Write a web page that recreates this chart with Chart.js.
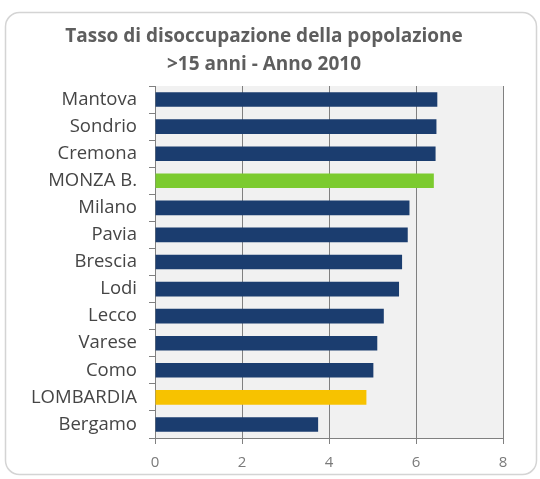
<!doctype html>
<html lang="it">

<head>
    <meta charset="utf-8">
    <title>Tasso di disoccupazione</title>
    <style>
        html, body { margin: 0; padding: 0; background: #fff; }
        #wrap { width: 540px; height: 479px; }
    </style>
</head>

<body>
    <div id="wrap"><canvas id="myChart" width="540" height="479"></canvas></div>

    <script src="https://cdn.jsdelivr.net/npm/chart.js@4.3.0/dist/chart.umd.min.js"></script>
    <script>
        const provinces = ['Mantova', 'Sondrio', 'Cremona', 'MONZA B.', 'Milano', 'Pavia', 'Brescia',
            'Lodi', 'Lecco', 'Varese', 'Como', 'LOMBARDIA', 'Bergamo'];
        const rates = [6.49, 6.47, 6.45, 6.41, 5.85, 5.81, 5.68, 5.61, 5.26, 5.11, 5.02, 4.86, 3.75];
        const xTicks = [0, 2, 4, 6, 8];

        const navy = '#1b3d6f';
        const barColors = provinces.map(p => p == 'MONZA B.' ? '#7ccb2f' : p == 'LOMBARDIA' ? '#f7c200' : navy);

        // rounded frame around the chart and grey plot background
        const frame = {
            id: 'frame',
            beforeDraw(chart) {
                const ctx = chart.ctx;
                const a = chart.chartArea;
                ctx.save();
                ctx.fillStyle = '#fff';
                ctx.fillRect(0, 0, chart.width, chart.height);
                ctx.beginPath();
                ctx.roundRect(5.5, 12.5, 531, 462, 14);
                ctx.strokeStyle = '#d4d4d4';
                ctx.lineWidth = 1.5;
                ctx.stroke();
                ctx.fillStyle = '#f1f1f1';
                ctx.fillRect(a.left, a.top, a.right - a.left, a.bottom - a.top);
                ctx.restore();
            }
        };

        const config = {
            type: 'bar',
            data: {
                labels: provinces,
                datasets: [{
                    data: rates,
                    backgroundColor: barColors,
                    barPercentage: 0.54,
                    categoryPercentage: 1.0
                }]
            },
            options: {
                indexAxis: 'y',
                responsive: false,
                animation: false,
                layout: { padding: { left: 25, right: 37, top: 4, bottom: -3 } },
                plugins: {
                    legend: { display: false },
                    tooltip: { enabled: false },
                    title: {
                        display: true,
                        text: ['Tasso di disoccupazione della popolazione', '>15 anni - Anno 2010'],
                        color: '#5e5e5e',
                        font: { family: 'Open Sans', size: 19, weight: 'bold', lineHeight: 1.5 },
                        padding: { top: 18, bottom: 7 }
                    }
                },
                scales: {
                    x: {
                        min: 0,
                        max: 8,
                        afterBuildTicks: axis => { axis.ticks = xTicks.map(v => ({ value: v })); },
                        grid: { color: '#808080', lineWidth: 1, tickLength: 6, drawTicks: true },
                        border: { color: '#808080' },
                        ticks: { color: '#7a7a7a', padding: 10, font: { family: 'Open Sans', size: 15 } }
                    },
                    y: {
                        offset: true,
                        afterFit: axis => { axis.width = 130; },
                        grid: { offset: true, drawOnChartArea: false, color: '#808080', tickLength: 6 },
                        border: { color: '#808080' },
                        ticks: { color: '#454545', padding: 12, font: { family: 'Open Sans', size: 18.5 } }
                    }
                }
            },
            plugins: [frame]
        };

        new Chart(document.getElementById('myChart'), config);
    </script>
</body>

</html>
